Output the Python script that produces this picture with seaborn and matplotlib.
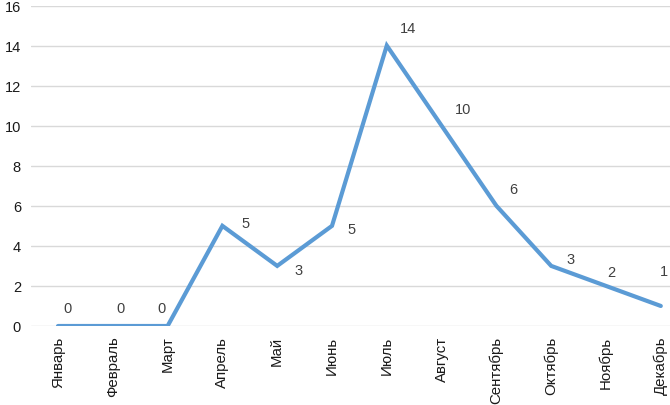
import matplotlib
matplotlib.use("Agg")
import matplotlib.pyplot as plt
import seaborn as sns
import pandas as pd

# Data
months = ["Январь", "Февраль", "Март", "Апрель", "Май", "Июнь",
          "Июль", "Август", "Сентябрь", "Октябрь", "Ноябрь", "Декабрь"]
counts = [0, 0, 0, 5, 3, 5, 14, 10, 6, 3, 2, 1]

df = pd.DataFrame({"month": months, "count": counts})
df["pos"] = range(len(df))

sns.set_style("white")
plt.rcParams["font.family"] = ["Liberation Sans", "DejaVu Sans"]

fig = plt.figure(figsize=(6.70, 4.06), dpi=100)
ax = fig.add_axes([30.6 / 670, 79 / 406, 657.6 / 670, 320.5 / 406])

sns.lineplot(data=df, x="pos", y="count", ax=ax, color="#5B9BD5",
             linewidth=3, solid_joinstyle="miter")

# label offsets in pixels (Excel-like placement)
offsets = [(10, 18), (8, 18), (-6, 18), (23, 3), (21, -4), (20, -3),
           (21, 18), (21, 17), (17, 17), (19, 7), (5, 14), (3, 35)]
for (_, r), off in zip(df.iterrows(), offsets):
    ax.annotate(str(r["count"]), (r["pos"], r["count"]), xytext=off,
                textcoords="offset pixels", ha="center", va="center",
                fontsize=10.5, color="#404040")

ax.set_xlim(-0.5, len(months) - 0.5)
ax.set_ylim(0, 16)
ax.set_yticks(range(0, 17, 2))
ax.set_xticks(df["pos"])
ax.set_xticklabels(months, rotation=90, fontsize=10.8, color="#1a1a1a")
ax.tick_params(axis="y", labelsize=10.5, labelcolor="#1a1a1a", length=0, pad=7)
ax.tick_params(axis="x", length=0, pad=7)
ax.grid(axis="y", color="#D9D9D9", linewidth=1)
ax.set_axisbelow(True)
for s in ax.spines.values():
    s.set_visible(False)
ax.set_xlabel("")
ax.set_ylabel("")

plt.savefig("out.png", dpi=100)
plt.close()
